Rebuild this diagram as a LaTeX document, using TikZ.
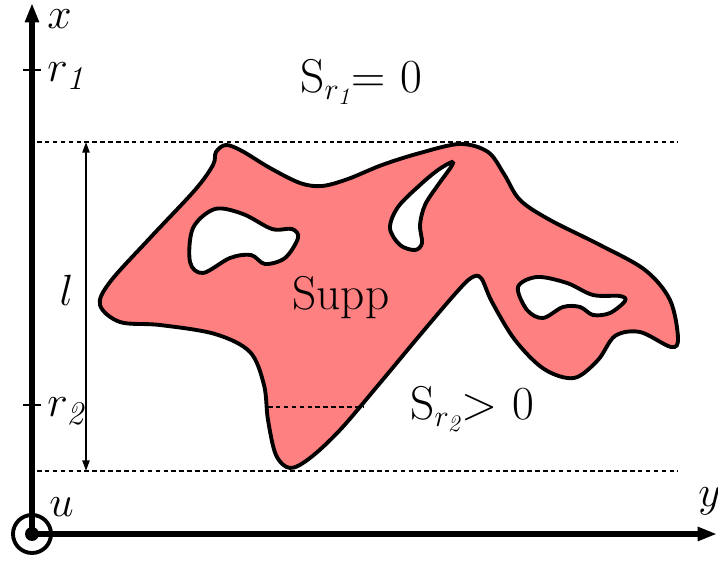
\documentclass[tikz,border=0pt]{standalone}
\usepackage{amsmath}
\usepackage{fontspec}
\usepackage{tikz}
\usetikzlibrary{positioning, arrows.meta}

\definecolor{suppred}{RGB}{255,128,128}

\tikzset{
    axisline/.style={line width=3pt, -{Triangle[length=11pt, width=7.5pt]}},
    tickmark/.style={line width=1.6pt},
    dashline/.style={line width=1.6pt, dash pattern=on 2.6pt off 1.9pt},
    lbl/.style={inner sep=0pt},
}

\begin{document}
\begin{tikzpicture}[x=0.02cm, y=-0.02cm, font=\fontsize{27}{32}\selectfont]
    \useasboundingbox (0,0) rectangle (718,563);

    \coordinate (o) at (32,534);
    \coordinate (xtip) at (32,3);
    \coordinate (ytip) at (717,534);
    \coordinate (t1a) at (23,70);
    \coordinate (t1b) at (41,70);
    \coordinate (t2a) at (23,405);
    \coordinate (t2b) at (41,405);
    \coordinate (ha) at (37,142);
    \coordinate (hb) at (678,142);
    \coordinate (la) at (37,471);
    \coordinate (lb) at (678,471);
    \coordinate (ltop) at (86,142);
    \coordinate (lbot) at (86,471);
    \coordinate (lmid) at (86,290);
    \coordinate (ca) at (268,407);
    \coordinate (cb) at (363,407);

    % supporto con i buchi
    \draw[line width=2.2pt, fill=suppred, even odd rule]
        plot[smooth cycle, tension=0.55] coordinates {
            (226,145) (242,151) (270,168) (300,183) (322,186) (348,179)
            (382,165) (420,153) (460,144) (488,152) (504,174) (520,200)
            (550,220) (600,245) (645,270) (670,300) (678,338) (671,347)
            (640,332) (615,336) (598,360) (574,378) (544,369) (515,340)
            (492,302) (481,278) (471,278) (455,294) (420,335) (380,383)
            (340,430) (310,458) (290,468) (276,455) (268,420) (264,385)
            (250,352) (215,334) (160,325) (120,322) (100,305) (110,282)
            (150,238) (195,190) (213,165) (216,152)}
        plot[smooth cycle, tension=0.55] coordinates {
            (190,262) (193,228) (215,209) (243,214) (272,229) (292,229)
            (298,238) (285,258) (265,264) (251,255) (230,258) (203,273)}
        plot[smooth cycle, tension=0.55] coordinates {
            (452,162) (438,170) (420,185) (398,207) (390,228) (400,245)
            (415,250) (422,243) (420,225) (425,205) (438,185) (451,167)}
        plot[smooth cycle, tension=0.55] coordinates {
            (518,287) (537,277) (567,283) (593,295) (620,296) (625,301)
            (610,313) (593,315) (580,307) (563,307) (543,318) (527,310)};

    \draw[dashline] (ha) -- (hb);
    \draw[dashline] (la) -- (lb);
    \draw[dashline] (ca) -- (cb);
    \draw[line width=1.1pt, {Triangle[length=6pt, width=4pt]}-{Triangle[length=6pt, width=4pt]}] (ltop) -- (lbot);

    % assi
    \draw[axisline] (o) -- (xtip);
    \draw[axisline] (o) -- (ytip);
    \draw[tickmark] (t1a) -- (t1b);
    \draw[tickmark] (t2a) -- (t2b);
    \draw[line width=2.2pt] (o) circle (19);
    \fill (o) circle (7);

    \node[lbl, anchor=base west] (xlab) at (47,29) {$x$};
    \node[lbl, anchor=base west] (ylab) at (698,507) {$y$};
    \node[lbl, anchor=base west] (r1) at (47,82) {$r_{\mathit{1}}$};
    \node[lbl, anchor=base west] (r2) at (47,417) {$r_{\mathit{2}}$};
    \node[lbl, anchor=base west] (u) at (49,517) {$u$};
    \node[lbl, left=7pt of lmid] (l) {$l$};
    \node[lbl, anchor=base west] (s1) at (300,93) {S$_{r_{\mathit{1}}}$= 0};
    \node[lbl, anchor=base west] (s2) at (410,420) {S$_{r_{\mathit{2}}}$> 0};
    \node[lbl, anchor=base west] (supp) at (292,310) {Supp};
\end{tikzpicture}
\end{document}
